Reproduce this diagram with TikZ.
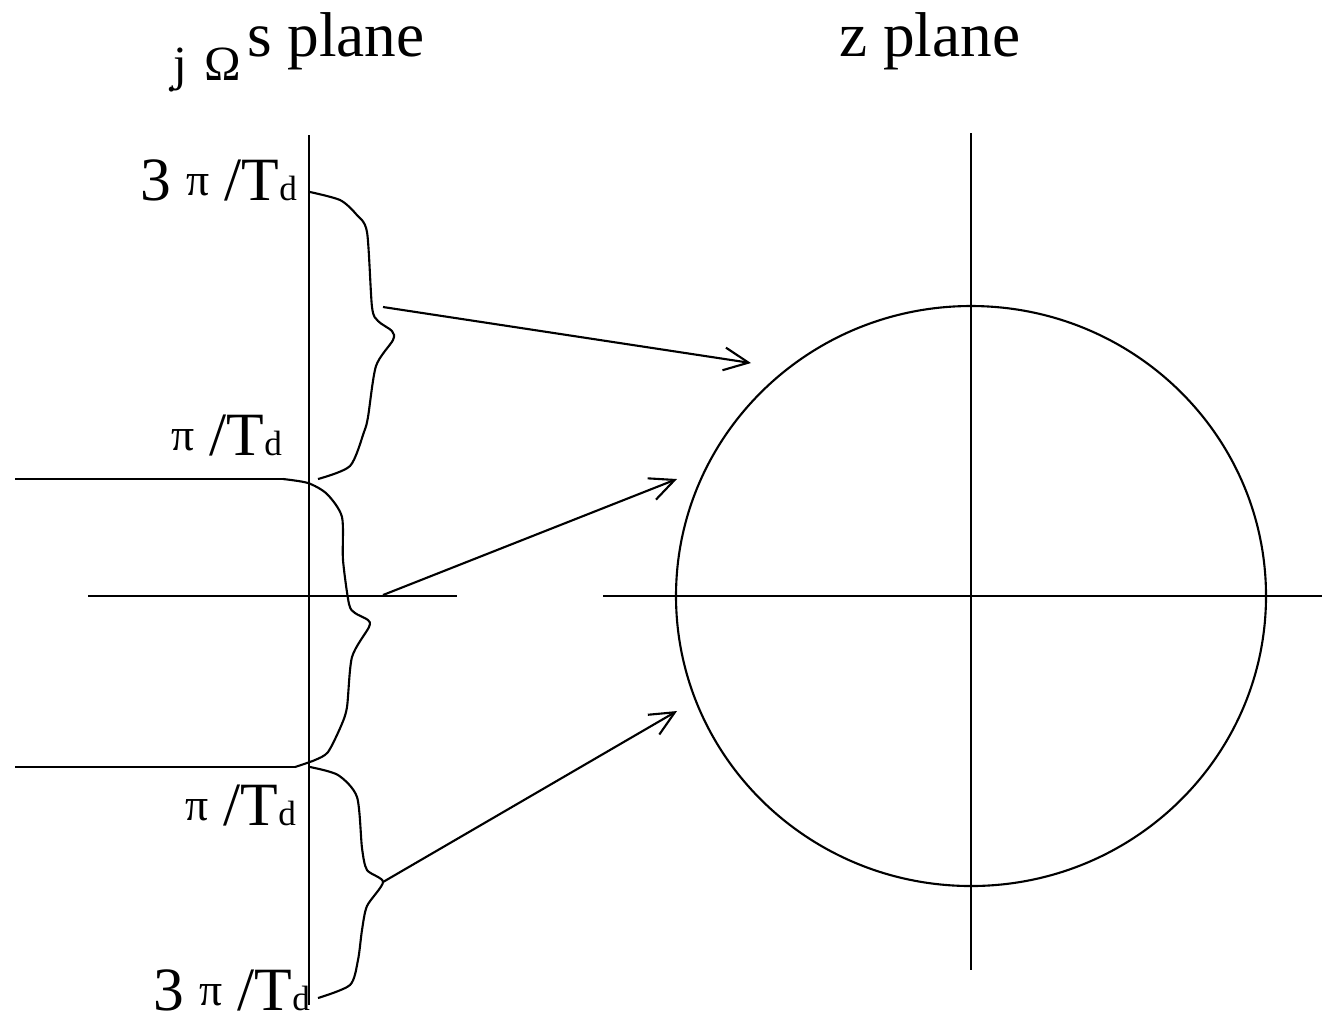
\documentclass[tikz,border=0pt]{standalone}
\usepackage{fontspec}
\setmainfont{Liberation Serif}
\usetikzlibrary{arrows.meta}
\newcommand{\pilab}[1]{#1\raisebox{1.2pt}{\fontsize{13}{13}\selectfont π} /T{\fontsize{10}{10}\selectfont d}}
\begin{document}
\begin{tikzpicture}[x=0.01cm,y=-0.01cm,line width=0.6pt,
  bracecurve/.style={line width=0.6pt},
  arr/.style={-{Straight Barb[length=7pt,width=6.5pt]},line width=0.6pt},
  lbl/.style={anchor=base east,inner sep=0pt,font=\fontsize{17.5}{17.5}\selectfont},
  title/.style={anchor=base west,inner sep=0pt,font=\fontsize{18}{18}\selectfont}]
\useasboundingbox (0,0) rectangle (1322,1017);

% titles
\node[title] (splane) at (246,56) {s plane};
\node[title] (zplane) at (838,56) {z plane};
\node[anchor=base west,inner sep=0pt,font=\fontsize{14}{14}\selectfont] (jomega) at (172,80) {j\hspace{5pt}Ω};
\node[anchor=base west,inner sep=0pt,font=\fontsize{12}{12}\selectfont] (dot) at (165,91) {.};

% labels
\node[lbl] (l1) at (298,200) {\pilab{3 }};
\node[lbl] (l2) at (283,455) {\pilab{}};
\node[lbl] (l3) at (297,825) {\pilab{}};
\node[lbl] (l4) at (311,1010) {\pilab{3 }};

% s-plane axes
\coordinate (sT) at (309,135);
\coordinate (sB) at (309,1005);
\coordinate (sL) at (88,596);
\coordinate (sR) at (457,596);
\draw (sT) -- (sB);
\draw (sL) -- (sR);

% left horizontal lines
\coordinate (h1a) at (15,479);
\coordinate (h1b) at (283,479);
\coordinate (h2a) at (15,767);
\coordinate (h2b) at (295,767);
\draw (h1a) -- (h1b);
\draw (h2a) -- (h2b);

% braces
\draw[bracecurve] plot[smooth,tension=0.45] coordinates {(310,192) (340,200) (356,214) (367,232) (372,307) (378,321) (392,331) (393,340) (376,366) (368,417) (364,432) (350,466) (318,479)};
\draw[bracecurve] plot[smooth,tension=0.45] coordinates {(283,479) (308,483) (327,494) (342,517) (343,560) (349,604) (355,613) (368,620) (369,627) (352,657) (347,707) (341,726) (328,752) (315,760) (295,767)};
\draw[bracecurve] plot[smooth,tension=0.45] coordinates {(310,767) (338,775) (357,797) (362,848) (367,870) (383,882) (367,906) (362,930) (358,960) (350,985) (318,998)};

% z-plane
\coordinate (zT) at (971,133);
\coordinate (zB) at (971,970);
\coordinate (zL) at (603,596);
\coordinate (zR) at (1322,596);
\draw (zT) -- (zB);
\draw (zL) -- (zR);
\draw (971,596) ellipse [x radius=295,y radius=290];

% arrows
\coordinate (a1s) at (383,307);
\coordinate (a1e) at (751,363);
\coordinate (a2s) at (383,595);
\coordinate (a2e) at (677,479);
\coordinate (a3s) at (383,882);
\coordinate (a3e) at (677,711);
\draw[arr] (a1s) -- (a1e);
\draw[arr] (a2s) -- (a2e);
\draw[arr] (a3s) -- (a3e);
\end{tikzpicture}
\end{document}
